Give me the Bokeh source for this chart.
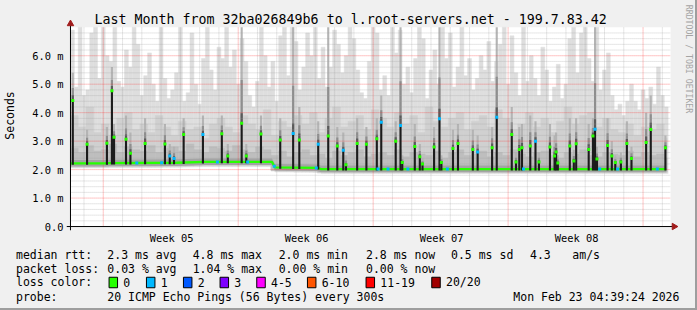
import numpy as np
from math import pi
from bokeh.plotting import figure
from bokeh.layouts import column
from bokeh.models import Range1d, FixedTicker
from bokeh.core.properties import value
from bokeh.embed import file_html
from bokeh.resources import INLINE

# ------------------------------------------------------------------ data
title_text = "Last Month from 32ba026849b6 to l.root-servers.net - 199.7.83.42"
watermark = "RRDTOOL / TOBI OETIKER"
week_labels = ["Week 05", "Week 06", "Week 07", "Week 08"]
week_centers = [5.25, 12.25, 19.25, 26.25]          # days from left edge
week_starts = [1.70, 8.70, 15.70, 22.70, 29.70]     # red major grid
y_ticks = [0, 1, 2, 3, 4, 5, 6]
y_tick_labels = ["0.0", "1.0 m", "2.0 m", "3.0 m", "4.0 m", "5.0 m", "6.0 m"]

# smoke: outermost (max ping) per 0.2-day step, ms
bin_days = 0.2
smoke_max = [6.9, 4.9, 7.0, 4.6, 4.8, 6.8, 7.0, 5.2, 7.0, 6.0,
             5.8, 7.0, 5.1, 4.9, 6.2, 5.6, 7.0, 6.4, 4.6, 5.3,
             6.1, 5.0, 4.4, 7.0, 5.2, 4.5, 4.8, 5.4, 7.0, 4.4,
             4.7, 6.8, 5.0, 4.3, 5.9, 7.0, 5.5, 4.8, 6.3, 5.9,
             7.0, 5.6, 6.2, 5.0, 6.6, 5.8, 4.6, 4.2, 5.1, 7.0,
             6.0, 4.9, 5.8, 4.4, 6.7, 7.0, 5.3, 7.0, 6.5, 4.8,
             5.6, 6.8, 6.0, 7.0, 5.2, 6.3, 4.9, 5.6, 6.9, 6.4,
             5.4, 6.0, 7.0, 6.6, 5.5, 4.7, 4.5, 5.8, 7.0, 6.8,
             4.8, 5.3, 4.6, 7.0, 6.1, 6.9, 5.0, 5.6, 4.7, 5.9,
             7.0, 6.6, 4.5, 5.5, 6.2, 5.0, 7.0, 5.9, 6.8, 4.9,
             5.6, 7.0, 5.3, 5.9, 4.8, 5.2, 6.0, 5.5, 6.5, 5.1,
             5.8, 6.4, 7.0, 5.0, 6.7, 5.4, 4.6, 7.0, 5.1, 6.0,
             5.2, 4.6, 6.3, 5.5, 4.4, 4.9, 5.7, 4.5, 5.0, 6.6,
             7.0, 5.4, 6.8, 7.0, 5.9, 5.1, 7.0, 4.8, 5.5, 6.1,
             4.6, 4.1, 4.3, 3.9, 4.4, 5.0, 4.4, 4.1, 4.8, 4.5,
             4.9, 4.3, 5.6, 4.6, 4.2]

# inner smoke layers per 0.4-day step, ms
mid_days = 0.4
smoke_mid = [3.9, 3.5, 4.2, 3.3, 3.6, 3.2, 3.8, 4.0, 3.4, 3.6,
             3.3, 3.9, 3.5, 3.2, 3.7, 3.4, 3.5, 3.1, 3.6, 3.8,
             3.5, 3.3, 3.9, 3.6, 3.4, 4.1, 3.2, 3.7, 3.5, 3.9,
             3.6, 4.0, 3.3, 3.8, 4.2, 3.5, 3.7, 3.9, 3.4, 4.1,
             3.8, 3.5, 4.0, 3.6, 3.9, 3.3, 4.2, 3.7, 3.5, 3.8,
             4.0, 3.4, 3.7, 3.9, 3.5, 4.1, 3.8, 3.4, 3.6, 4.0,
             3.5, 3.8, 3.3, 3.7, 4.2, 3.6, 3.9, 4.0, 3.5, 3.8,
             3.4, 3.3, 3.6, 3.2, 3.5, 3.4, 3.6, 3.1]
smoke_core = [2.75, 2.6, 2.85, 2.65, 2.7, 2.9, 2.6, 2.8, 2.7, 2.65,
              2.85, 2.6, 2.75, 2.8, 2.65, 2.9, 2.7, 2.6, 2.8, 2.75,
              2.65, 2.85, 2.7, 2.6, 2.8, 2.7,
              2.5, 2.65, 2.45, 2.6, 2.7, 2.5, 2.55, 2.4, 2.65, 2.5,
              2.6, 2.7, 2.45, 2.55, 2.6, 2.5, 2.7, 2.45, 2.6, 2.55,
              2.5, 2.65, 2.4, 2.6, 2.7, 2.5, 2.55, 2.65, 2.45, 2.6,
              2.5, 2.7, 2.55, 2.45, 2.6, 2.65, 2.5, 2.4, 2.6, 2.55,
              2.7, 2.5, 2.45, 2.6, 2.55, 2.5, 2.65, 2.45, 2.6, 2.5,
              2.55, 2.4]

# median baseline (days, ms)
base_t = [0.0, 1.8, 2.0, 5.5, 7.0, 10.45, 10.6, 12.8, 13.0, 30.9]
base_v = [2.22, 2.22, 2.23, 2.24, 2.27, 2.27, 2.08, 2.06, 2.02, 2.02]

# median spikes: time (days), median (ms), loss count, smoke top (ms)
spike_t = [0.12, 0.86, 1.89, 2.15, 2.26, 2.88, 3.11, 3.87, 4.90, 5.15,
           5.37, 5.87, 6.87, 7.85, 8.16, 8.88, 9.12, 9.88, 10.88, 11.55,
           11.87, 12.85, 13.37, 13.84, 14.15, 14.29, 14.87, 15.35, 15.89, 16.12,
           16.87, 17.12, 17.21, 17.86, 18.12, 18.26, 18.86, 19.14, 19.24, 19.84,
           20.10, 20.87, 21.12, 21.87, 22.11, 22.89, 23.11, 23.28, 23.42, 23.85,
           24.12, 24.30, 24.87, 25.11, 25.19, 25.28, 25.90, 26.11, 26.23, 26.88,
           27.10, 27.21, 27.31, 27.86, 28.08, 28.26, 28.55, 28.86, 29.10, 29.86,
           30.10, 30.86]
spike_v = [4.43, 2.89, 2.93, 4.77, 3.14, 3.07, 2.57, 2.92, 2.90, 2.48,
           2.39, 3.23, 3.23, 3.26, 2.48, 3.63, 2.48, 3.25, 3.04, 3.27,
           3.04, 2.89, 3.18, 2.83, 2.68, 2.17, 2.92, 2.89, 3.08, 3.66,
           3.00, 3.55, 2.25, 2.81, 2.45, 2.20, 2.79, 3.79, 2.25, 2.74,
           2.92, 2.71, 2.62, 2.77, 3.84, 3.23, 2.27, 2.71, 2.77, 2.83,
           3.00, 2.27, 2.79, 2.48, 2.62, 2.23, 2.83, 2.30, 2.91, 2.71,
           3.18, 3.42, 2.37, 2.85, 2.48, 2.25, 2.27, 2.92, 2.39, 2.95,
           3.41, 2.77]
spike_loss = [0, 0, 0, 0, 0, 0, 0, 0, 0, 1,
              1, 0, 1, 0, 0, 0, 0, 0, 0, 1,
              0, 1, 0, 0, 1, 0, 0, 0, 0, 1,
              0, 1, 0, 0, 0, 0, 0, 1, 0, 0,
              0, 0, 1, 0, 1, 0, 0, 0, 0, 0,
              1, 0, 0, 0, 0, 0, 0, 0, 0, 0,
              0, 1, 0, 0, 0, 0, 0, 0, 0, 0,
              0, 0]
spike_smoke = [5.4, 3.4, 3.5, 5.6, 3.6, 3.9, 3.3, 3.8, 3.6, 2.9,
               2.8, 3.8, 3.9, 3.9, 2.9, 7.0, 2.9, 3.9, 3.8, 7.0,
               4.2, 3.7, 7.0, 3.5, 3.3, 2.5, 3.8, 3.5, 3.8, 4.6,
               3.7, 7.0, 2.5, 3.6, 2.9, 2.4, 3.5, 7.0, 2.5, 3.4,
               3.6, 3.4, 3.2, 3.5, 7.0, 4.2, 2.6, 3.5, 3.6, 3.9,
               3.7, 2.6, 3.6, 3.2, 3.3, 2.5, 3.8, 2.7, 3.8, 3.6,
               3.8, 7.0, 2.8, 3.8, 3.0, 2.5, 2.6, 3.7, 2.8, 4.0,
               4.6, 3.2]
# baseline steps with one lost ping
loss1_t = [3.44, 4.73, 7.62, 9.19, 10.57, 12.75, 15.95, 16.47, 17.5, 19.55,
           23.5, 27.45, 28.38, 30.44]

rtt_stats = [("avg", 2.3), ("max", 4.8), ("min", 2.0), ("now", 2.8)]
rtt_sd = 0.5
rtt_ams = 4.3
loss_stats = [("avg", 0.03), ("max", 1.04), ("min", 0.00), ("now", 0.00)]
loss_names = ["0", "1", "2", "3", "4-5", "6-10", "11-19", "20/20"]
loss_colors = ["#26ff00", "#00b8ff", "#0059ff", "#7e00ff", "#ff00ff",
               "#ff5500", "#ff0000", "#a10000"]
probe_text = "20 ICMP Echo Pings (56 Bytes) every 300s"
stamp_text = "Mon Feb 23 04:39:24 2026"

# ------------------------------------------------------------------ geometry
W = 697
H_TOP, H_LEG = 246, 64
CL, CR, CT, CB = 67, 670, 27, 228          # rrdtool canvas (pixels)
X_END = 31.13                              # days across the canvas
Y_END = 7.0                                # ms across the canvas
DPX = (CR - CL) / X_END
MPX = (CB - CT) / Y_END
FL, FB = 63, 232                           # bokeh frame left / bottom
MONO = "DejaVu Sans Mono"
BG = "#f0f0f0"


def px_x(px):
    return (px - CL) / DPX


def px_y(py):
    return (CB - py) / MPX


p = figure(width=W, height=H_TOP, output_backend="svg", toolbar_location=None,
           x_range=Range1d(px_x(FL), px_x(W)), y_range=Range1d(px_y(FB), px_y(0)),
           min_border_left=FL, min_border_right=0, min_border_top=0,
           min_border_bottom=H_TOP - FB,
           background_fill_color=None, border_fill_color=None, outline_line_color=None)
p.styles = {"background-color": BG, "box-shadow": "inset -2px 0 0 0 #9e9e9e"}
p.grid.visible = False

# canvas
p.quad(left=[0], right=[X_END], bottom=[0], top=[Y_END], fill_color="white", line_color=None)

# smoke
t_max = np.arange(len(smoke_max)) * bin_days
b_max = np.interp(t_max + bin_days / 2, base_t, base_v)
p.quad(left=t_max, right=t_max + bin_days, bottom=b_max - 0.16, top=smoke_max,
       fill_color="#dedede", line_color="#dedede", line_width=0.5)

t_mid = np.arange(len(smoke_mid)) * mid_days
b_mid = np.interp(t_mid + mid_days / 2, base_t, base_v)
p.quad(left=t_mid, right=np.minimum(t_mid + mid_days, 30.95), bottom=b_mid - 0.13,
       top=smoke_mid, fill_color="#d0d0d0", line_color="#d0d0d0", line_width=0.5)

t_core = np.arange(len(smoke_core)) * mid_days
b_core = np.interp(t_core + mid_days / 2, base_t, base_v)
p.quad(left=t_core, right=np.minimum(t_core + mid_days, 30.95), bottom=b_core - 0.1,
       top=smoke_core, fill_color="#bebebe", line_color="#bebebe", line_width=0.5)

bt = np.array(base_t)
bv = np.array(base_v)
p.varea(x=bt, y1=bv - 0.11, y2=bv + 0.12, fill_color="#a4a4a4")

st = np.array(spike_t)
sv = np.array(spike_v)
ss = np.array(spike_smoke)
sb = np.interp(st, base_t, base_v)
d = ss - sv
p.vbar(x=st, width=0.11, bottom=sv, top=ss, fill_color="#b4b4b4", line_color=None)
p.vbar(x=st, width=0.11, bottom=sv, top=sv + 0.45 * d, fill_color="#8e8e8e", line_color=None)
p.vbar(x=st, width=0.11, bottom=sv, top=sv + np.minimum(0.2 * d, 0.35),
       fill_color="#5a5a5a", line_color=None)

# grid (drawn over the smoke, as rrdtool does)
minor_x = [week_starts[0] - 1 + k for k in range(31) if k % 7 != 1]
minor_y = [round(0.2 * k, 1) for k in range(1, 35) if k % 5]
major_y = y_ticks[1:]
p.segment(x0=minor_x, x1=minor_x, y0=0, y1=Y_END, line_color="#a0a0a0",
          line_alpha=0.5, line_dash="1 1", line_width=1)
p.segment(x0=0, x1=X_END, y0=minor_y, y1=minor_y, line_color="#a0a0a0",
          line_alpha=0.5, line_dash="1 1", line_width=1)
p.segment(x0=week_starts, x1=week_starts, y0=0, y1=Y_END, line_color="#ff2020",
          line_alpha=0.5, line_dash="1 1", line_width=1)
p.segment(x0=0, x1=X_END, y0=major_y, y1=major_y, line_color="#ff2020",
          line_alpha=0.5, line_dash="1 1", line_width=1)

# median
p.line(bt, bv, line_color="#26ff00", line_width=2.3)
p.vbar(x=st, width=0.11, bottom=sb - 0.05, top=sv, fill_color="#1c1c1c", line_color=None)
spike_cols = [loss_colors[k] for k in spike_loss]
p.rect(x=st, y=sv, width=3, height=3, width_units="screen", height_units="screen",
       fill_color=spike_cols, line_color=None)
l1t = np.array(loss1_t)
p.rect(x=l1t, y=np.interp(l1t, base_t, base_v), width=3, height=3,
       width_units="screen", height_units="screen",
       fill_color=loss_colors[1], line_color=None)

# rrdtool axis lines with arrows
p.segment(x0=[px_x(FL), 0], y0=[0, px_y(FB)], x1=[px_x(673), 0], y1=[0, px_y(23)],
          line_color="black", line_width=1)
p.scatter(x=[0, px_x(673.5)], y=[px_y(23.5), 0], marker="triangle", size=6.5,
          angle=[0, -pi / 2], fill_color="#a01c1c", line_color="#a01c1c")

# title and watermark
p.text(x=[px_x(348.5)], y=[px_y(19)], text=[title_text], text_font=value(MONO),
       text_font_size="13.3px", text_color="black", text_align="center",
       text_baseline="middle")
p.text(x=[px_x(688)], y=[px_y(59)], text=[watermark], text_font=value(MONO),
       text_font_size="8.2px", text_color="#a4a4a4", text_align="center",
       text_baseline="middle", angle=-pi / 2)

# bokeh axes: tick labels only
p.yaxis.ticker = FixedTicker(ticks=y_ticks)
p.yaxis.major_label_overrides = {t: s for t, s in zip(y_ticks, y_tick_labels)}
p.xaxis.ticker = FixedTicker(ticks=week_centers)
p.xaxis.major_label_overrides = {t: s for t, s in zip(week_centers, week_labels)}
for ax in (p.xaxis, p.yaxis):
    ax.axis_line_color = None
    ax.major_tick_line_color = None
    ax.minor_tick_line_color = None
    ax.major_tick_out = 0
    ax.major_tick_in = 0
    ax.minor_tick_out = 0
    ax.minor_tick_in = 0
    ax.major_label_text_font = MONO
    ax.major_label_text_font_size = "10.4px"
    ax.major_label_text_color = "black"
p.yaxis.major_label_standoff = 3
p.xaxis.major_label_standoff = 1
p.yaxis.axis_label = "Seconds"
p.yaxis.axis_label_text_font = MONO
p.yaxis.axis_label_text_font_size = "11.5px"
p.yaxis.axis_label_text_font_style = "normal"
p.yaxis.axis_label_text_color = "black"
p.yaxis.axis_label_standoff = 12

# ------------------------------------------------------------------ legend panel
q = figure(width=W, height=H_LEG, output_backend="svg", toolbar_location=None,
           x_range=Range1d(0, W), y_range=Range1d(H_TOP + H_LEG, H_TOP),
           x_axis_type=None, y_axis_type=None, min_border=0,
           background_fill_color=None, border_fill_color=None, outline_line_color=None)
q.frame_align = False
q.grid.visible = False
q.styles = {"background-color": BG, "box-shadow": "inset -2px -2px 0 0 #9e9e9e"}

cols = [107.3, 192.7, 278.7, 366]
r1, r2, r3, r4 = 254.3, 268.3, 281.7, 296.3
tx, ty, tt = [], [], []


def put(text, xpx, ypx):
    tx.append(xpx - 0.5)
    ty.append(ypx)
    tt.append(text)


put("median rtt:", 16, r1)
for (nm, v), cx in zip(rtt_stats, cols):
    put("%.1f ms %s" % (v, nm), cx, r1)
put("%.1f ms sd" % rtt_sd, 451, r1)
put("%.1f" % rtt_ams, 530, r1)
put("am/s", 572.3, r1)
put("packet loss:", 16, r2)
for (nm, v), cx in zip(loss_stats, cols):
    put("%.2f %% %s" % (v, nm), cx, r2)
put("loss color:", 16, r3)
box_x = [108.3, 145.7, 182.7, 219.3, 256, 306.7, 365.3, 431]
for nm, bx in zip(loss_names, box_x):
    put(nm, bx + 15, r3)
put("probe:", 16, r4)
put(probe_text, 107.3, r4)
put(stamp_text, 513.3, r4)

q.text(x=tx, y=ty, text=tt, text_font=value(MONO), text_font_size="11.5px",
       text_color="black", text_align="left", text_baseline="middle")
q.rect(x=[bx + 4.5 for bx in box_x], y=[r3 + 0.3] * len(box_x), width=8.5, height=10.5,
       fill_color=loss_colors, line_color="black", line_width=1)

p.frame_align = False
layout = column(p, q, spacing=0)
open("out.html", "w").write(file_html(layout, INLINE))
